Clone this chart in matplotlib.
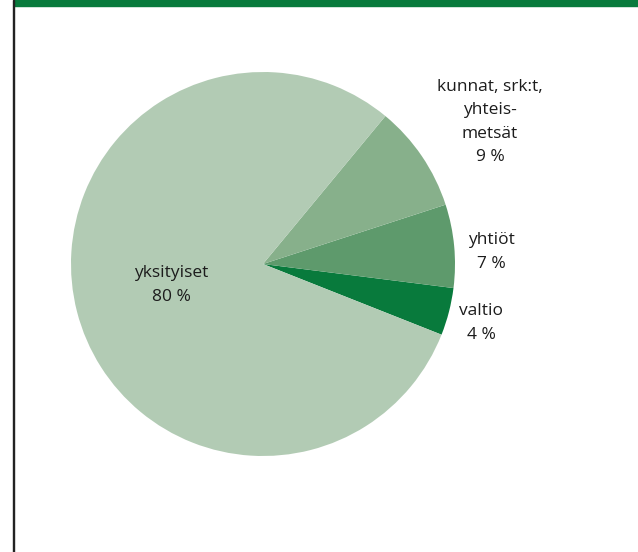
import numpy as np
import matplotlib.pyplot as plt
from matplotlib.patches import Rectangle

# Forest ownership shares (%)
labels = ["valtio", "yhtiöt", "kunnat, srk:t,\nyhteis-\nmetsät", "yksityiset"]
shares = [4, 7, 9, 80]
colors = ["#087a3c", "#5e9a6c", "#87b08b", "#b2cbb4"]
# label placement: radial distance and angular nudge from the wedge middle
label_dist = [1.176, 1.189, 1.395, 0.491]
label_nudge = [-0.7, -2.4, -2.15, -1.6]

W, H = 638, 552
fig = plt.figure(figsize=(W / 100, H / 100), dpi=100)
fig.patch.set_facecolor("white")

# pie centre and radius in pixels
cx, cy, R = 263, 264, 192
ax = fig.add_axes([0, 0, 1, 1])

wedges, _ = ax.pie(shares, colors=colors, startangle=-21.6, counterclock=True,
                   radius=1.0, center=(0, 0), frame=True,
                   wedgeprops=dict(linewidth=0, antialiased=True))
ax.set_xlim(-cx / R, (W - cx) / R)
ax.set_ylim(-(H - cy) / R, cy / R)
ax.set_aspect("auto")
ax.axis("off")

for w, lab, val, d, nd in zip(wedges, labels, shares, label_dist, label_nudge):
    mid = np.deg2rad((w.theta1 + w.theta2) / 2 + nd)
    ax.text(d * np.cos(mid), d * np.sin(mid), f"{lab}\n{val} %",
            ha="center", va="center", fontsize=12.5, color="#1c1c1c",
            family="Open Sans", linespacing=1.62)

# green header band and left rule
fig.patches.append(Rectangle((14 / W, 1 - 6 / H), 1 - 14 / W, 6 / H,
                             transform=fig.transFigure, color="#087a3c", zorder=5))
fig.patches.append(Rectangle((12.5 / W, 0), 1.8 / W, 1,
                             transform=fig.transFigure, color="#222222", zorder=5))

fig.savefig("out.png", dpi=100)
